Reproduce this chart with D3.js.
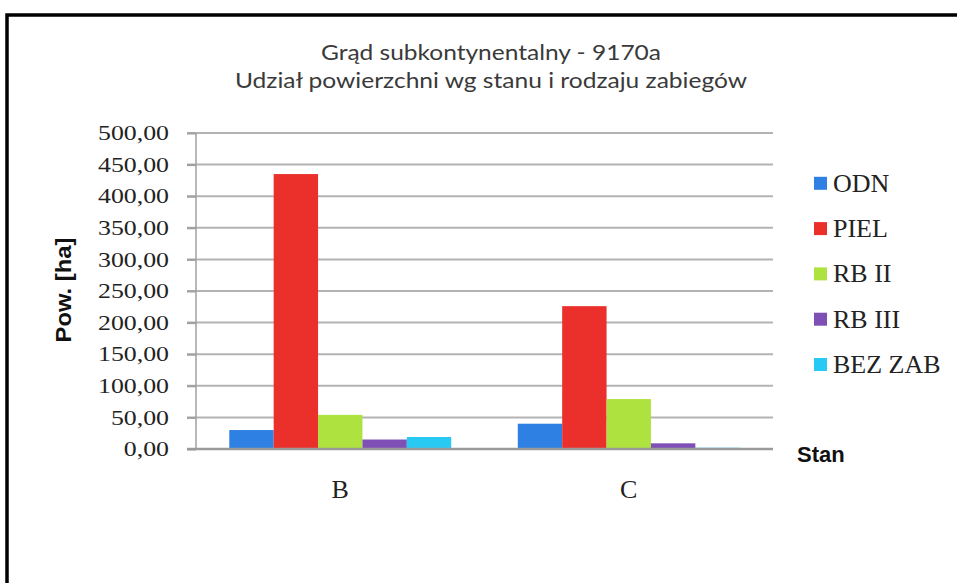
<!DOCTYPE html>
<html>
<head>
<meta charset="utf-8">
<script src="https://cdn.jsdelivr.net/npm/d3@7"></script>
<style>
  body { margin: 0; background: #fff; }
  .serif { font-family: 'Liberation Serif', 'Times New Roman', serif; }
  .bold { font-family: 'Liberation Sans', Arial, sans-serif; font-weight: bold; }
</style>
</head>
<body>
<div id="chart"></div>
<script>
let categories = ['B', 'C']
let seriesNames = ['ODN', 'PIEL', 'RB II', 'RB III', 'BEZ ZAB']
let seriesColors = ['#2e80e2', '#eb2f2a', '#aee23f', '#7e50b6', '#28c9f3']
let odn = [30, 40]
let piel = [435, 226]
let rb2 = [54, 79]
let rb3 = [15, 9]
let bezZab = [19, 2]
let yTicks = [0, 50, 100, 150, 200, 250, 300, 350, 400, 450, 500]

let values = [odn, piel, rb2, rb3, bezZab]

let W = 957
let H = 583
let margin = { top: 133, left: 196, right: 184, bottom: 134 }
let width = W - margin.left - margin.right
let height = H - margin.top - margin.bottom

let root = d3
  .select('#chart')
  .append('svg')
  .attr('width', W)
  .attr('height', H)

// outer frame (only top + left edges fall inside the picture)
root
  .append('rect')
  .attr('x', 7)
  .attr('y', 15)
  .attr('width', 980)
  .attr('height', 600)
  .attr('fill', 'none')
  .attr('stroke', '#000')
  .attr('stroke-width', 3.5)

// title, two lines
let titleLines = [
  { text: 'Grąd subkontynentalny - 9170a', y: 60, len: 340 },
  { text: 'Udział powierzchni wg stanu i rodzaju zabiegów', y: 88, len: 512 }
]
root
  .append('g')
  .selectAll('text')
  .data(titleLines)
  .enter()
  .append('text')
  .attr('x', 491)
  .attr('y', d => d.y)
  .attr('text-anchor', 'middle')
  .attr('font-family', 'Lato, "Open Sans", sans-serif')
  .attr('fill', '#3a3a3a')
  .attr('textLength', d => d.len)
  .attr('lengthAdjust', 'spacingAndGlyphs')
  .style('font-size', '21px')
  .text(d => d.text)

let svg = root
  .append('g')
  .attr('transform', 'translate(' + margin.left + ',' + margin.top + ')')

let y = d3.scaleLinear().domain([0, 500]).range([height, 0])

let x0 = d3
  .scaleBand()
  .domain(categories)
  .range([0, width])
  .padding(0)

// Excel-style gap width 150%: 5 bars + 1.5 bar gap per category
let gap = (x0.bandwidth() * 1.5) / 6.5
let x1 = d3
  .scaleBand()
  .domain(seriesNames)
  .range([gap / 2, x0.bandwidth() - gap / 2])

// gridlines
svg
  .append('g')
  .selectAll('line')
  .data(yTicks.filter(d => d > 0))
  .enter()
  .append('line')
  .attr('x1', -9)
  .attr('x2', width)
  .attr('y1', d => y(d))
  .attr('y2', d => y(d))
  .attr('stroke', '#b3b3b3')
  .attr('stroke-width', 2)

// y axis
let labelStretch = 1.23
let yAxis = svg
  .append('g')
  .call(
    d3
      .axisLeft(y)
      .tickValues(yTicks)
      .tickSize(9)
      .tickFormat(d => d3.format('.2f')(d).replace('.', ','))
  )
yAxis.select('.domain').attr('stroke', '#a0a0a0').attr('stroke-width', 1.5).attr('d', 'M0,0V' + height)
yAxis.selectAll('.tick line').attr('stroke', '#a0a0a0').attr('stroke-width', 2)
yAxis
  .selectAll('text')
  .attr('class', 'serif')
  .attr('x', -27 / labelStretch)
  .attr('transform', 'scale(' + labelStretch + ',1)')
  .attr('fill', '#222')
  .style('font-size', '21px')

// bars
let groups = svg
  .append('g')
  .selectAll('g')
  .data(categories)
  .enter()
  .append('g')
  .attr('transform', d => 'translate(' + x0(d) + ',0)')

groups
  .selectAll('rect')
  .data((d, i) => seriesNames.map((s, j) => ({ s: s, v: values[j][i], c: seriesColors[j] })))
  .enter()
  .append('rect')
  .attr('x', d => x1(d.s))
  .attr('width', x1.bandwidth())
  .attr('y', d => y(d.v))
  .attr('height', d => height - y(d.v))
  .attr('fill', d => d.c)

// baseline
svg
  .append('line')
  .attr('x1', -9)
  .attr('x2', width)
  .attr('y1', height)
  .attr('y2', height)
  .attr('stroke', '#9a9a9a')
  .attr('stroke-width', 2.5)

// category labels
svg
  .append('g')
  .selectAll('text')
  .data(categories)
  .enter()
  .append('text')
  .attr('class', 'serif')
  .attr('x', d => x0(d) + x0.bandwidth() / 2)
  .attr('y', height + 49)
  .attr('text-anchor', 'middle')
  .attr('fill', '#222')
  .style('font-size', '26px')
  .text(d => d)

// axis titles
svg
  .append('text')
  .attr('class', 'bold')
  .attr('transform', 'translate(' + (-125) + ',' + (height / 2 - 1) + ') rotate(-90)')
  .attr('text-anchor', 'middle')
  .attr('textLength', 105)
  .attr('lengthAdjust', 'spacingAndGlyphs')
  .style('font-size', '22px')
  .attr('fill', '#111')
  .text('Pow. [ha]')

svg
  .append('text')
  .attr('class', 'bold')
  .attr('x', width + 24)
  .attr('y', height + 13)
  .style('font-size', '22px')
  .attr('fill', '#111')
  .text('Stan')

// legend
let legend = root
  .append('g')
  .selectAll('g')
  .data(seriesNames)
  .enter()
  .append('g')
  .attr('transform', (d, i) => 'translate(814,' + (183.3 + i * 45.3) + ')')

legend
  .append('rect')
  .attr('x', 0)
  .attr('y', -6.5)
  .attr('width', 13)
  .attr('height', 13)
  .attr('fill', (d, i) => seriesColors[i])

legend
  .append('text')
  .attr('class', 'serif')
  .attr('x', 19)
  .attr('y', 8.5)
  .attr('fill', '#222')
  .style('font-size', '26px')
  .text(d => d)
</script>
</body>
</html>
